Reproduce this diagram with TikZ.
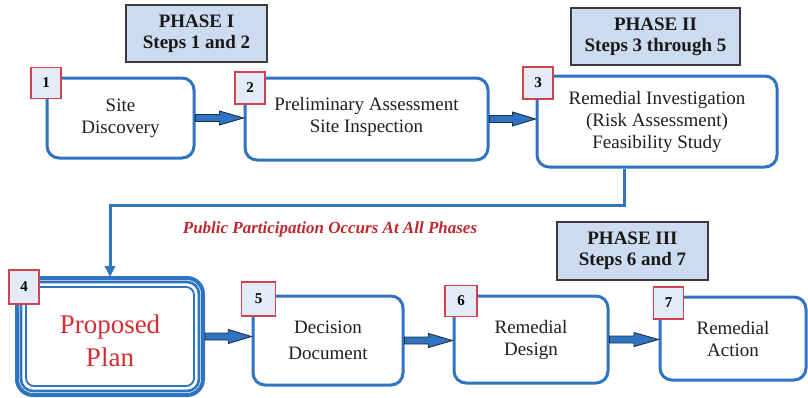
\documentclass[tikz,border=0pt]{standalone}
\usepackage{fontspec}
\setmainfont{Liberation Serif}
\usetikzlibrary{arrows.meta,calc}
\definecolor{bblue}{HTML}{2F74C0}
\definecolor{badgered}{HTML}{D2414C}
\definecolor{badgefill}{HTML}{E2EBF6}
\definecolor{phasefill}{HTML}{CCDBEF}
\definecolor{phaseborder}{HTML}{3A3A3A}
\definecolor{arrowdark}{HTML}{1E2E48}
\definecolor{ppred}{HTML}{D82C34}
\definecolor{pubred}{HTML}{C1272F}
\tikzset{
 stepbox/.style={draw=bblue, line width=3pt, rounded corners=12pt, fill=white, align=center, inner sep=0pt, text=black!88, font=\fontsize{19}{22}\selectfont},
 badge/.style={draw=badgered, line width=1.3pt, fill=badgefill, minimum width=30pt, minimum height=31pt, inner sep=0pt, font=\bfseries\fontsize{15}{18}\selectfont},
 phase/.style={draw=phaseborder, line width=1.5pt, fill=phasefill, align=center, inner sep=0pt, text=black!90, font=\bfseries\fontsize{19}{21}\selectfont},
 barrow/.style={draw=arrowdark, line width=0.9pt, fill=bblue, line join=miter},
 conn/.style={draw=bblue, line width=3pt, -{Triangle[width=10pt,length=11pt]}},
 innerline/.style={draw=bblue}
}
\newcommand\blockarr[2]{\path[barrow] let \p1=(#1.east), \p2=(#2.west), \p3=($(\p1)!0.5!(\p2)$) in
  (\x1,\y1-3.5pt) -- (\x3,\y1-3.5pt) -- (\x3,\y1-7pt) -- (\x2,\y1) -- (\x3,\y1+7pt) -- (\x3,\y1+3.5pt) -- (\x1,\y1+3.5pt) -- cycle;}
\begin{document}
\begin{tikzpicture}[x=1pt,y=-1pt]
\useasboundingbox (0,0) rectangle (808,397);
% phase boxes
\node[phase, minimum width=141pt, minimum height=57pt] (p1) at (196.5,33.5) {PHASE I\\Steps 1 and 2};
\node[phase, minimum width=169pt, minimum height=57pt] (p2) at (655.5,36.5) {PHASE II\\Steps 3 through 5};
\node[phase, minimum width=151pt, minimum height=58pt] (p3) at (632.5,251) {PHASE III\\Steps 6 and 7};
% step boxes
\node[stepbox, minimum width=147pt, minimum height=80pt] (b1) at (120.5,118) {Site\\Discovery};
\node[stepbox, minimum width=243pt, minimum height=82pt] (b2) at (366.5,119) {};
\node[align=center, inner sep=0pt, text=black!88, font=\fontsize{19}{22}\selectfont] (t2) at ([yshift=2pt]b2.center) {Preliminary Assessment\\Site Inspection};
\node[stepbox, minimum width=240pt, minimum height=91pt] (b3) at (657,121.5) {Remedial Investigation\\(Risk Assessment)\\Feasibility Study};
\node[stepbox, line width=4pt, rounded corners=16pt, minimum width=186pt, minimum height=117pt] (b4) at (110,336.5) {};
\draw[innerline, line width=2.6pt, rounded corners=12pt] ([shift={(6pt,-6pt)}]b4.north west) rectangle ([shift={(-6pt,6pt)}]b4.south east);
\draw[innerline, line width=1.8pt, rounded corners=8pt] ([shift={(11pt,-11pt)}]b4.north west) rectangle ([shift={(-11pt,11pt)}]b4.south east);
\node[align=center, inner sep=0pt, text=ppred, font=\fontsize{27}{33}\selectfont] (t4) at ([yshift=-4pt]b4.center) {Proposed\\Plan};
\node[stepbox, minimum width=150pt, minimum height=89pt, font=\fontsize{19}{26}\selectfont] (b5) at (328,340.5) {Decision\\Document};
\node[stepbox, minimum width=154pt, minimum height=87pt] (b6) at (531,339.5) {Remedial\\Design};
\node[stepbox, minimum width=146pt, minimum height=83pt] (b7) at (733,338.5) {Remedial\\Action};
% block arrows
\blockarr{b1}{b2}
\blockarr{b2}{b3}
\blockarr{b4}{b5}
\blockarr{b5}{b6}
\blockarr{b6}{b7}
% connector
\coordinate (turn) at (624,205);
\draw[conn, shorten >=-1pt] ([xshift=-33pt]b3.south) -- (turn) -| (b4.north);
\node[font=\bfseries\itshape\fontsize{17}{20}\selectfont, text=pubred] (pub) at (330,229) {Public Participation Occurs At All Phases};
% badges
\node[badge] (n1) at (46,83) {1};
\node[badge, minimum height=32pt] (n2) at (250,88) {2};
\node[badge, minimum height=32pt] (n3) at (538,83) {3};
\node[badge, minimum height=34pt] (n4) at (24,287) {4};
\node[badge, minimum width=34pt, minimum height=34pt] (n5) at (258.5,299) {5};
\node[badge, minimum width=32pt] (n6) at (461,301) {6};
\node[badge, minimum height=32pt] (n7) at (668.5,303) {7};
\end{tikzpicture}
\end{document}
